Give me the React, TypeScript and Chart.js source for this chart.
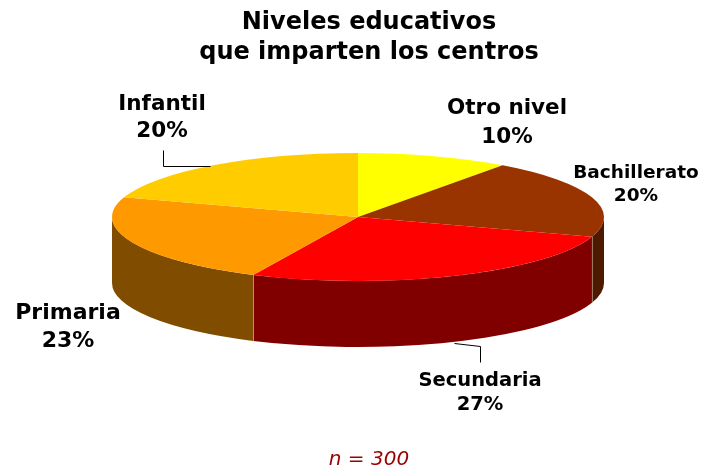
import React, { useEffect, useRef } from 'react';
import { Chart, registerables } from 'chart.js';

Chart.register(...registerables);

// ---- data ----
const categories = ['Otro nivel', 'Bachillerato', 'Secundaria', 'Primaria', 'Infantil'];
const percentages = [10, 20, 27, 23, 20];
const topColors = ['#FFFF00', '#993300', '#FF0000', '#FF9900', '#FFCC00'];
const sideColors = ['#808000', '#4D1A00', '#800000', '#804D00', '#806600'];
const chartTitle = ['Niveles educativos', 'que imparten los centros'];
const sampleNote = 'n = 300';

// ---- layout / style ----
const FONT = '"DejaVu Sans", Verdana, sans-serif';
const PIE = { cx: 358, cy: 217, rx: 246, ry: 64, depth: 66 };
// label first-line centre offsets from the pie centre, line gap, font size
const labelLayout = [
  { dx: 149, dy: -109, gap: 29, size: 21.5 },
  { dx: 278, dy: -44, gap: 23, size: 18.5 },
  { dx: 122, dy: 164, gap: 24, size: 19.5 },
  { dx: -290, dy: 96, gap: 28, size: 22 },
  { dx: -196, dy: -113, gap: 27, size: 21.5 },
];
const leaderLines: Record<number, number[][]> = {
  4: [[-195, -67], [-195, -51], [-148, -51]],
  2: [[96, 126], [122, 129], [122, 145]],
};

let transformed = false;

const pie3d = {
  id: 'pie3d',
  beforeDatasetsDraw(chart: any) {
    const ctx = chart.ctx as CanvasRenderingContext2D;
    const arcs = chart.getDatasetMeta(0).data as any[];
    if (!arcs.length) return;
    const { cx, cy, rx, ry, depth } = PIE;
    arcs.forEach((arc, i) => {
      const p = arc.getProps(['startAngle', 'endAngle'], true);
      const a = Math.max(p.startAngle, 0);
      const b = Math.min(p.endAngle, Math.PI);
      if (b <= a) return;
      ctx.beginPath();
      ctx.ellipse(cx, cy, rx, ry, 0, a, b);
      ctx.ellipse(cx, cy + depth, rx, ry, 0, b, a, true);
      ctx.closePath();
      ctx.fillStyle = sideColors[i];
      ctx.fill();
    });
    // subtle separators between wall pieces
    ctx.save();
    ctx.strokeStyle = 'rgba(220,200,180,0.55)';
    ctx.lineWidth = 1;
    arcs.forEach((arc) => {
      const p = arc.getProps(['endAngle'], true);
      const t = p.endAngle;
      if (t > 0 && t < Math.PI) {
        const x = Math.round(cx + rx * Math.cos(t)) + 0.5;
        const y = cy + ry * Math.sin(t);
        ctx.beginPath();
        ctx.moveTo(x, y);
        ctx.lineTo(x, y + depth);
        ctx.stroke();
      }
    });
    ctx.restore();

    const a0 = arcs[0].getProps(['x', 'y', 'outerRadius'], true);
    ctx.save();
    transformed = true;
    ctx.translate(cx, cy);
    ctx.scale(rx / a0.outerRadius, ry / a0.outerRadius);
    ctx.translate(-a0.x, -a0.y);
  },
  afterDatasetsDraw(chart: any) {
    if (transformed) {
      chart.ctx.restore();
      transformed = false;
    }
  },
  afterDraw(chart: any) {
    const ctx = chart.ctx as CanvasRenderingContext2D;
    const { cx, cy } = PIE;
    const total = percentages.reduce((s, v) => s + v, 0);
    ctx.save();
    ctx.strokeStyle = '#000';
    ctx.lineWidth = 1;
    Object.keys(leaderLines).forEach((k) => {
      const pts = leaderLines[+k];
      ctx.beginPath();
      pts.forEach(([dx, dy], j) => {
        const x = cx + dx + 0.5;
        const y = cy + dy + 0.5;
        if (j === 0) ctx.moveTo(x, y);
        else ctx.lineTo(x, y);
      });
      ctx.stroke();
    });
    ctx.fillStyle = '#000';
    ctx.textAlign = 'center';
    ctx.textBaseline = 'middle';
    categories.forEach((name, i) => {
      const l = labelLayout[i];
      ctx.font = `bold ${l.size}px ${FONT}`;
      const pct = Math.round((percentages[i] / total) * 100) + '%';
      ctx.fillText(name, cx + l.dx, cy + l.dy);
      ctx.fillText(pct, cx + l.dx, cy + l.dy + l.gap);
    });
    ctx.restore();
  },
};

export default function App() {
  const ref = useRef<HTMLCanvasElement>(null);
  useEffect(() => {
    if (!ref.current) return;
    const chart = new Chart(ref.current, {
      type: 'pie',
      data: {
        labels: categories,
        datasets: [
          {
            data: percentages,
            backgroundColor: topColors,
            borderWidth: 0,
            hoverOffset: 0,
          },
        ],
      },
      options: {
        responsive: false,
        animation: false,
        events: [],
        layout: { padding: { left: 34, right: 0, top: 0, bottom: 0 } },
        plugins: {
          legend: { display: false },
          tooltip: { enabled: false },
          title: {
            display: true,
            text: chartTitle,
            color: '#000',
            font: { family: FONT, size: 24, weight: 'bold', lineHeight: 1.25 },
            padding: { top: 8, bottom: 0 },
          },
          subtitle: {
            display: true,
            position: 'bottom',
            text: sampleNote,
            color: '#990000',
            font: { family: FONT, size: 20, style: 'italic', lineHeight: 1 },
            padding: { top: 0, bottom: 0 },
          },
        },
      },
      plugins: [pie3d],
    } as any);
    return () => chart.destroy();
  }, []);
  return (
    <div style={{ position: 'fixed', left: 0, top: 0, width: 704, height: 470, background: '#fff' }}>
      <canvas ref={ref} width={704} height={470} style={{ display: 'block' }} />
    </div>
  );
}
